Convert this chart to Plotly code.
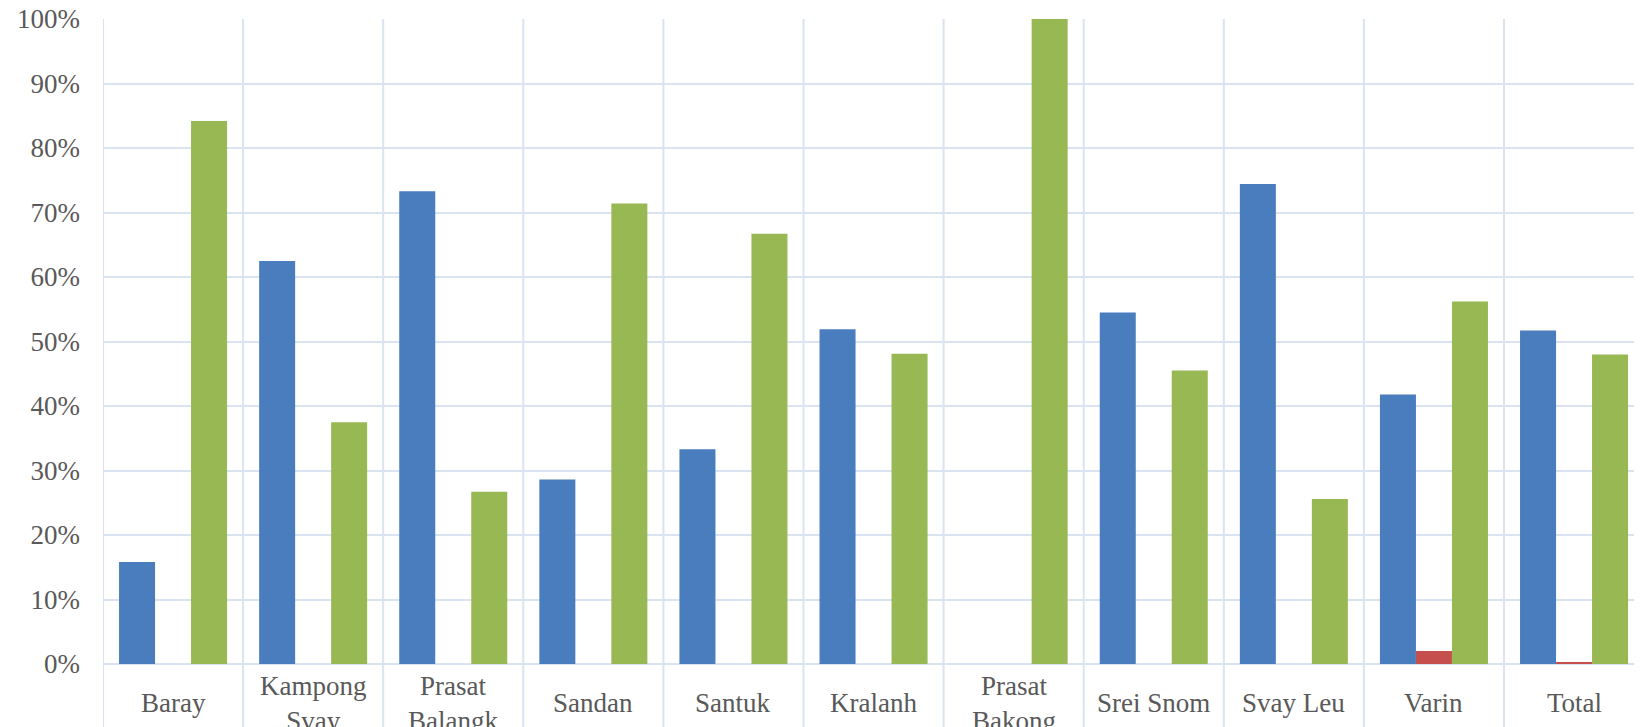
import plotly.graph_objects as go

categories = ["Baray", "Kampong<br>Svay", "Prasat<br>Balangk", "Sandan", "Santuk", "Kralanh",
              "Prasat<br>Bakong", "Srei Snom", "Svay Leu", "Varin", "Total"]
series_blue = [0.158, 0.625, 0.733, 0.286, 0.333, 0.519, 0.0, 0.545, 0.744, 0.418, 0.517]
series_red = [0, 0, 0, 0, 0, 0, 0, 0, 0, 0.020, 0.003]
series_green = [0.842, 0.375, 0.267, 0.714, 0.667, 0.481, 1.0, 0.455, 0.256, 0.562, 0.480]
y_ticks = [0, 0.1, 0.2, 0.3, 0.4, 0.5, 0.6, 0.7, 0.8, 0.9, 1.0]

# page has an 8px body margin; figure coordinates are offset by it
OFF = 8
W, H = 1642 - OFF, 727 - OFF
L, T = 103 - OFF, 19 - OFF
zero_y = 664 - OFF
B = H - zero_y
plot_h = zero_y - T
cat_w = 140.1
grid_col = "#d9e3f1"
font_fam = "Liberation Serif"
txt_col = "#595959"

idx = list(range(len(categories)))

fig = go.Figure()
fig.add_trace(go.Bar(x=idx, y=series_blue, marker=dict(color="#4a7dbe", line=dict(width=0))))
fig.add_trace(go.Bar(x=idx, y=series_red, marker=dict(color="#c44f4c", line=dict(width=0))))
fig.add_trace(go.Bar(x=idx, y=series_green, marker=dict(color="#97b852", line=dict(width=0))))

shapes = []
for i in range(len(categories)):
    shapes.append(dict(type="line", xref="x", yref="paper", x0=i - 0.5, x1=i - 0.5,
                       y0=1, y1=-0.2, line=dict(color=grid_col, width=2), layer="below"))

annotations = []
label_y = -((703 - OFF) - zero_y) / plot_h
for i, c in enumerate(categories):
    annotations.append(dict(x=i, y=label_y, xref="x", yref="paper", text=c, showarrow=False,
                            yanchor="middle", xanchor="center",
                            font=dict(family=font_fam, size=27, color=txt_col)))

x_end = -0.5 + (W - L) / cat_w

fig.update_layout(
    width=W, height=H,
    margin=dict(l=L, r=0, t=T, b=B, pad=0, autoexpand=False),
    paper_bgcolor="white", plot_bgcolor="white",
    barmode="group", bargap=0.229, bargroupgap=0,
    showlegend=False,
    shapes=shapes, annotations=annotations,
    xaxis=dict(range=[-0.5, x_end], showticklabels=False, showgrid=False, zeroline=False,
               showline=False, ticks="", automargin=False),
    yaxis=dict(range=[0, 1], tickvals=y_ticks, tickformat=".0%", automargin=False,
               showgrid=True, gridcolor=grid_col, gridwidth=2,
               zeroline=True, zerolinecolor=grid_col, zerolinewidth=2,
               showline=False, ticks="", ticklabelstandoff=22, ticklabeloverflow="allow",
               tickfont=dict(family=font_fam, size=27, color=txt_col)),
)

fig.write_html("out.html")
